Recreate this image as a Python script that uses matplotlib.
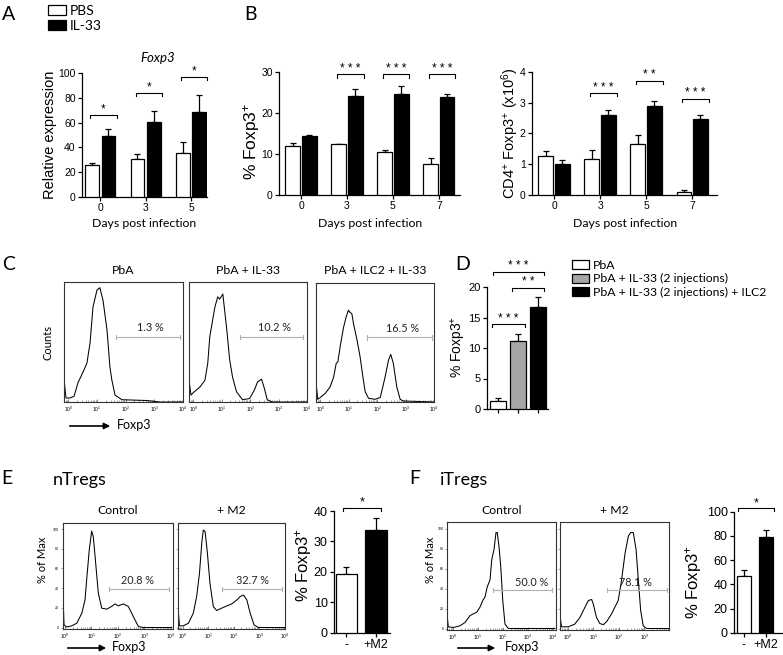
import matplotlib
matplotlib.use('agg')
import matplotlib.pyplot as plt
from matplotlib.ticker import NullFormatter, FixedLocator
import numpy as np

plt.rcParams['font.family'] = ['Liberation Sans', 'DejaVu Sans']
plt.rcParams['mathtext.fontset'] = 'custom'
plt.rcParams['mathtext.rm'] = 'Liberation Sans'
plt.rcParams['mathtext.it'] = 'Liberation Sans:italic'
plt.rcParams['mathtext.bf'] = 'Liberation Sans:bold'
LATO = ['Lato', 'DejaVu Sans']

W, H = 783, 655

# ---------------- data ----------------
# A: relative Foxp3 expression
a_days = ['0', '3', '5']
a_pbs = [25.9, 31.0, 35.1]
a_pbs_err = [1.4, 3.5, 9.5]
a_il33 = [49.2, 60.8, 68.9]
a_il33_err = [5.4, 8.7, 13.0]
a_sig = ['*', '*', '*']
a_sig_y = [66, 84, 97]

# B: % Foxp3+ and CD4+ Foxp3+ numbers
b_days = ['0', '3', '5', '7']
b1_pbs = [11.95, 12.36, 10.5, 7.64]
b1_pbs_err = [0.7, 0.2, 0.55, 1.46]
b1_il33 = [14.3, 24.1, 24.7, 23.9]
b1_il33_err = [0.3, 1.8, 1.9, 0.8]
b1_sig = ['', '***', '***', '***']
b1_sig_y = [0, 29.4, 29.4, 29.4]

b2_pbs = [1.28, 1.18, 1.66, 0.1]
b2_pbs_err = [0.16, 0.27, 0.28, 0.05]
b2_il33 = [1.0, 2.6, 2.88, 2.47]
b2_il33_err = [0.15, 0.15, 0.17, 0.14]
b2_sig = ['', '***', '**', '***']
b2_sig_y = [0, 3.32, 3.72, 3.13]

# C: histograms (log10 Foxp3, % of max)
c_titles = ['PbA', 'PbA + IL-33', 'PbA + ILC2 + IL-33']
c_gates = ['1.3 %', '10.2 %', '16.5 %']
c1_log = [-0.15, -0.08, 0.06, 0.20, 0.34, 0.51, 0.65, 0.76, 0.86, 1.0, 1.1, 1.21,
          1.35, 1.45, 1.52, 1.63, 1.87, 2.74, 3.2, 4.0]
c1_pct = [20, 3.5, 3.5, 5, 17, 26, 34, 52, 83, 98, 100, 89, 63, 31, 19, 6, 2, 1.3, 0, 0]
c2_log = [-0.15, -0.08, -0.01, 0.23, 0.41, 0.51, 0.58, 0.76, 0.86, 0.93, 1.04, 1.18,
          1.28, 1.38, 1.52, 1.73, 1.98, 2.15, 2.26, 2.4, 2.5, 2.6, 2.78, 4.0]
c2_pct = [19, 6, 8, 13, 19, 34, 57, 83, 92, 90, 94.5, 63, 37, 22, 9, 2, 3, 10.5, 17.5,
          20, 12, 2, 0, 0]
c3_log = [-0.15, -0.09, 0.0, 0.18, 0.35, 0.47, 0.56, 0.62, 0.70, 0.82, 0.91, 0.99,
          1.05, 1.11, 1.17, 1.29, 1.40, 1.50, 1.58, 1.70, 1.93, 2.11, 2.28, 2.40,
          2.48, 2.57, 2.69, 2.81, 2.92, 4.0]
c3_pct = [18, 2.4, 4, 7.7, 13.5, 22, 34, 35.6, 49, 66, 75, 81, 79, 78, 69, 55, 40, 22,
          9, 3.2, 2.4, 4, 22, 37, 42, 34, 13.5, 2.4, 0.9, 0]

# D: % Foxp3+
d_groups = ['PbA', 'PbA + IL-33 (2 injections)', 'PbA + IL-33 (2 injections) + ILC2']
d_vals = [1.36, 11.2, 16.7]
d_err = [0.4, 1.15, 1.6]
d_colors = ['white', '#a6a6a6', 'black']

# E: nTregs
e_groups = ['-', '+M2']
e_vals = [19.2, 33.8]
e_err = [2.4, 3.8]
e_gates = ['20.8 %', '32.7 %']
e1_log = [-0.04, -0.02, 0.08, 0.27, 0.46, 0.65, 0.77, 0.83, 0.93, 1.02, 1.08, 1.15,
          1.27, 1.40, 1.59, 1.77, 1.90, 2.02, 2.21, 2.40, 2.59, 2.78, 2.96, 4.03]
e1_pct = [18, 2.7, 0.5, 1.7, 4.4, 14.6, 28, 48, 79, 98, 92.5, 72, 35, 19.6, 18.7, 21.4,
          24, 22, 24, 21.4, 11, 1, 0, 0]
e2_log = [-0.16, -0.12, 0.03, 0.23, 0.42, 0.55, 0.66, 0.75, 0.81, 0.88, 0.97, 1.07,
          1.20, 1.33, 1.53, 1.73, 1.92, 2.12, 2.25, 2.38, 2.51, 2.64, 2.79, 2.96, 4.0]
e2_pct = [14.6, 1.7, 1.7, 4.4, 14.6, 31.5, 55, 86, 99, 97.6, 75.5, 45, 21.4, 17.3, 19.7,
          22, 24, 28, 31.5, 33, 28, 14.6, 2.7, 0, 0]

# F: iTregs
f_vals = [47.1, 78.8]
f_err = [4.7, 6.0]
f_gates = ['50.0 %', '78.1 %']
f1_log = [-0.25, -0.19, 0.01, 0.28, 0.48, 0.68, 0.81, 0.95, 1.08, 1.19, 1.28, 1.37,
          1.48, 1.55, 1.64, 1.72, 1.77, 1.84, 1.91, 1.99, 2.08, 2.21, 4.08]
f1_pct = [18, 1.7, 1, 2.7, 6, 12.9, 14.6, 16.3, 21.4, 28, 31.5, 41.7, 48.4, 68.8, 79,
          96, 96, 82, 62, 28, 4.4, 0, 0]
f2_log = [-0.31, -0.25, 0.01, 0.27, 0.47, 0.67, 0.80, 0.93, 0.99, 1.12, 1.25, 1.39,
          1.52, 1.71, 1.84, 1.97, 2.10, 2.24, 2.37, 2.46, 2.56, 2.67, 2.76, 2.85, 2.95,
          3.08, 4.0]
f2_pct = [13, 1.7, 1.7, 4.4, 11, 21.4, 28, 29, 24.8, 11, 5, 3.8, 7, 14.6, 21.4, 28, 48,
          75.5, 92.5, 96, 96, 79, 48, 18, 2.7, 0, 0]

fig = plt.figure(figsize=(W / 100, H / 100), dpi=100)


def rect(l, t, r, b):
    return [l / W, 1 - b / H, (r - l) / W, (b - t) / H]


def ftext(px, py, s, **kw):
    return fig.text(px / W, 1 - py / H, s, **kw)


def style_bar_ax(ax, fs):
    for s in ['top', 'right']:
        ax.spines[s].set_visible(False)
    for s in ['left', 'bottom']:
        ax.spines[s].set_linewidth(0.9)
    ax.tick_params(direction='out', length=3, width=0.9, labelsize=fs, pad=1.5)


def bracket(ax, x0, x1, y, label, fs=8.5):
    d = ax.get_ylim()[1] * 0.025
    ax.plot([x0, x0, x1, x1], [y - d, y, y, y - d], color='black', lw=0.8, clip_on=False)
    # stars are printed spaced out, like in the original figure
    ax.annotate(' '.join(label), ((x0 + x1) / 2, y), xytext=(0, -0.5),
                textcoords='offset points', ha='center', va='bottom', fontsize=fs,
                annotation_clip=False)


def bars_with_err(ax, x, vals, err, width, color):
    b = ax.bar(x, vals, width, color=color, edgecolor='black', lw=0.9, zorder=3)
    ax.errorbar(x, vals, yerr=[np.zeros(len(vals)), err], fmt='none', ecolor='black',
                elinewidth=0.9, capsize=2.5, capthick=0.9, zorder=2)
    return b


def grouped(box, xlim, ylim, yticks, names, white, white_err, black, black_err,
            sig, sig_y, width=0.32, off=0.18):
    ax = fig.add_axes(rect(*box))
    x = np.arange(len(names))
    wb = bars_with_err(ax, x - off, white, white_err, width, 'white')
    bb = bars_with_err(ax, x + off, black, black_err, width, 'black')
    ax.set_xlim(*xlim)
    ax.set_ylim(*ylim)
    ax.set_yticks(yticks)
    ax.set_xticks(x)
    ax.set_xticklabels(names)
    style_bar_ax(ax, 7.5)
    for i, s in enumerate(sig):
        if s:
            bracket(ax, i - 0.22, i + 0.36, sig_y[i], s)
    return ax, wb, bb


# ---------------- A ----------------
axA, wbA, bbA = grouped((82, 73, 207, 197), (-0.40, 2.35), (0, 100), range(0, 101, 20),
                        a_days, a_pbs, a_pbs_err, a_il33, a_il33_err, a_sig, a_sig_y,
                        width=0.30)
fig.legend([wbA, bbA], ['PBS', 'IL-33'], loc='upper left',
           bbox_to_anchor=(48 / W, 1 - 5 / H), frameon=False,
           prop={'family': LATO, 'size': 10}, handlelength=1.3, handleheight=0.7,
           handletextpad=0.3, labelspacing=0.2, borderpad=0, borderaxespad=0)
ftext(158, 58, 'Foxp3', family=LATO, style='italic', fontsize=9.5, ha='center', va='center')
ftext(50, 135, 'Relative expression', rotation=90, fontsize=10.5, ha='center', va='center')
ftext(144, 224, 'Days post infection', family=LATO, fontsize=8.8, ha='center', va='center')

# ---------------- B ----------------
grouped((279, 72, 460, 195), (-0.48, 3.46), (0, 30), range(0, 31, 10),
        b_days, b1_pbs, b1_pbs_err, b1_il33, b1_il33_err, b1_sig, b1_sig_y)
ftext(252, 141, '% Foxp3$^{+}$', rotation=90, fontsize=12.5, ha='center', va='center')
ftext(370, 224, 'Days post infection', family=LATO, fontsize=8.8, ha='center', va='center')

grouped((532, 72, 717, 195), (-0.48, 3.54), (0, 4), range(0, 5),
        b_days, b2_pbs, b2_pbs_err, b2_il33, b2_il33_err, b2_sig, b2_sig_y)
ftext(510, 133, 'CD4$^{+}$ Foxp3$^{+}$ (x10$^{6}$)', rotation=90, fontsize=10.5,
      ha='center', va='center')
ftext(625, 224, 'Days post infection', family=LATO, fontsize=8.8, ha='center', va='center')


# ---------------- histograms ----------------
def histogram(box, logx, pct, xlim, ylim, gate, gate_y, label, label_xy, title,
              title_y, ylabels=None):
    ax = fig.add_axes(rect(*box))
    ax.plot(10 ** np.array(logx), pct, color='black', lw=0.75)
    ax.set_xscale('log')
    ax.set_xlim(10 ** xlim[0], 10 ** xlim[1])
    ax.set_ylim(*ylim)
    ax.xaxis.set_major_locator(FixedLocator([1, 10, 100, 1000, 10000]))
    ax.xaxis.set_minor_formatter(NullFormatter())
    ax.tick_params(axis='x', which='major', direction='in', length=2.5, width=0.5,
                   labelsize=3.5, pad=2, color='#555555')
    ax.tick_params(axis='x', which='minor', direction='in', length=1.3, width=0.4,
                   color='#555555')
    if ylabels is None:
        ax.set_yticks([])
    else:
        ax.set_yticks(range(0, 101, 20))
        ax.tick_params(axis='y', direction='out', length=1.5, width=0.4,
                       labelsize=2.5, pad=1, color='#555555')
        if not ylabels:
            ax.set_yticklabels([])
    for s in ax.spines.values():
        s.set_linewidth(0.8)
        s.set_color('#333333')
    g0, g1 = 10 ** gate[0], 10 ** gate[1]
    dy = (ylim[1] - ylim[0]) * 0.018
    ax.plot([g0, g1], [gate_y, gate_y], color='#b0b0b0', lw=0.8)
    ax.plot([g0, g0], [gate_y - dy, gate_y + dy], color='#b0b0b0', lw=0.8)
    ax.plot([g1, g1], [gate_y - dy, gate_y + dy], color='#b0b0b0', lw=0.8)
    ax.text(10 ** label_xy[0], label_xy[1], label, family=LATO, fontsize=7.8,
            ha='center', va='bottom', color='#222222')
    ftext((box[0] + box[2]) / 2, title_y, title, family=LATO, fontsize=8.8,
          ha='center', va='center')
    return ax


histogram((64, 282, 183, 402), c1_log, c1_pct, (-0.15, 4.0), (0, 105), (1.66, 3.89), 57,
          c_gates[0], (2.85, 60), c_titles[0], 270)
histogram((189, 282, 307, 402), c2_log, c2_pct, (-0.15, 4.0), (0, 105), (1.66, 3.85), 57,
          c_gates[1], (2.85, 60), c_titles[1], 270)
histogram((316, 283, 434, 402), c3_log, c3_pct, (-0.15, 4.0), (0, 105), (1.65, 3.93), 57,
          c_gates[2], (2.88, 60), c_titles[2], 270)
ftext(48, 342, 'Counts', family=LATO, fontsize=8, rotation=90, ha='center', va='center')


def arrow(x0, x1, y, tx):
    fig.add_artist(matplotlib.patches.FancyArrowPatch(
        (x0 / W, 1 - y / H), (x1 / W, 1 - y / H), transform=fig.transFigure,
        arrowstyle='-|>', mutation_scale=9, lw=1.2, color='black'))
    ftext(tx, y - 1, 'Foxp3', family=LATO, fontsize=9, ha='left', va='center')


arrow(67, 113, 426, 117)

# ---------------- D ----------------
axD = fig.add_axes(rect(487, 287, 548, 409))
xd = np.arange(len(d_vals))
bd = bars_with_err(axD, xd, d_vals, d_err, 0.79, d_colors)
axD.set_xlim(-0.54, 2.47)
axD.set_ylim(0, 20)
axD.set_yticks(range(0, 21, 5))
axD.set_xticks(xd)
axD.set_xticklabels([])
style_bar_ax(axD, 8)
bracket(axD, -0.25, 2.28, 22.5, '***')
bracket(axD, 0.69, 2.28, 19.9, '**')
bracket(axD, -0.3, 1.33, 13.9, '***')
ftext(458, 347, '% Foxp3$^{+}$', rotation=90, fontsize=10, ha='center', va='center')
fig.legend(bd.patches, d_groups, loc='upper left', bbox_to_anchor=(572 / W, 1 - 260 / H),
           frameon=False, prop={'family': LATO, 'size': 8.8}, handlelength=1.35,
           handleheight=0.8, handletextpad=0.35, labelspacing=0.2, borderpad=0,
           borderaxespad=0)

# ---------------- E ----------------
histogram((62.7, 522.7, 172.7, 629), e1_log, e1_pct, (-0.07, 4.07), (-1.5, 106.5),
          (1.67, 3.93), 39, e_gates[0], (2.76, 42), 'Control', 510, ylabels=True)
histogram((177.7, 522.7, 285, 629), e2_log, e2_pct, (-0.19, 4.0), (-1.5, 106.5),
          (1.54, 3.89), 39, e_gates[1], (2.75, 42), '+ M2', 510, ylabels=False)
ftext(42, 560, '% of Max', family=LATO, fontsize=8, rotation=90, ha='center', va='center')
arrow(65, 109, 648, 112)

axE = fig.add_axes(rect(334, 511, 390, 632.7))
xe = np.arange(len(e_vals))
bars_with_err(axE, xe, e_vals, e_err, 0.73, ['white', 'black'])
axE.set_xlim(-0.42, 1.47)
axE.set_ylim(0, 40)
axE.set_yticks(range(0, 41, 10))
axE.set_xticks(xe)
axE.set_xticklabels(e_groups)
style_bar_ax(axE, 9)
bracket(axE, -0.12, 1.16, 41, '*', fs=9)
ftext(304, 565, '% Foxp3$^{+}$', rotation=90, fontsize=12, ha='center', va='center')

# ---------------- F ----------------
histogram((447, 522, 556, 630), f1_log, f1_pct, (-0.24, 4.12), (-1.5, 106.5),
          (1.59, 3.95), 38.3, f_gates[0], (3.15, 41), 'Control', 510, ylabels=True)
histogram((560, 522, 669, 630), f2_log, f2_pct, (-0.31, 3.96), (-1.5, 106.5),
          (1.52, 3.87), 38.3, f_gates[1], (2.63, 41), '+ M2', 510, ylabels=False)
ftext(430, 560, '% of Max', family=LATO, fontsize=8, rotation=90, ha='center', va='center')
arrow(455, 498, 648, 505)

axF = fig.add_axes(rect(734, 511.7, 783, 632.7))
xf = np.arange(len(f_vals))
bars_with_err(axF, xf, f_vals, f_err, 0.64, ['white', 'black'])
axF.set_xlim(-0.45, 1.77)
axF.set_ylim(0, 100)
axF.set_yticks(range(0, 101, 20))
axF.set_xticks(xf)
axF.set_xticklabels(e_groups)
style_bar_ax(axF, 9)
bracket(axF, -0.28, 1.35, 102.8, '*', fs=9)
ftext(694, 582, '% Foxp3$^{+}$', rotation=90, fontsize=12, ha='center', va='center')

# ---------------- panel letters ----------------
for s, x, y in [('A', 9, 14), ('B', 250, 14), ('C', 9, 265), ('D', 463, 264),
                ('E', 7, 478), ('F', 415, 478)]:
    ftext(x, y, s, family=LATO, fontsize=14, ha='center', va='center')
ftext(53, 480, 'nTregs', family=LATO, fontsize=13, ha='left', va='center')
ftext(440, 480, 'iTregs', family=LATO, fontsize=13, ha='left', va='center')

fig.savefig('out.png', dpi=100)
